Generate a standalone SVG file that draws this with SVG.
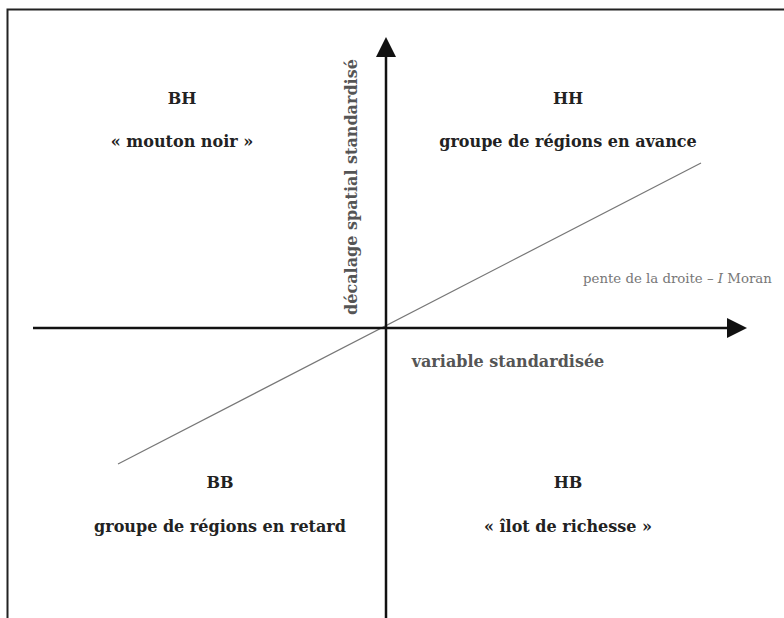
<svg xmlns="http://www.w3.org/2000/svg" width="784" height="618" viewBox="0 0 784 618">
<style>
.t{font-family:"DejaVu Serif","Liberation Serif",serif;text-anchor:middle;fill:#222;font-weight:bold;font-size:16px}
.g{font-family:"DejaVu Serif","Liberation Serif",serif;fill:#777;font-size:13.3px}
.ax{stroke:#111;stroke-width:2.5;fill:none}
</style>
<rect width="784" height="618" fill="#fff"/>
<path d="M7.5,618 V9.5 H784" fill="none" stroke="#222" stroke-width="2"/>
<g id="connectors">
<line x1="118" y1="464" x2="701" y2="163" stroke="#777" stroke-width="1.2"/>
<line class="ax" x1="386" y1="618" x2="386" y2="56"/>
<path d="M376,57 L386,37 L396,57 Z" fill="#111"/>
<line class="ax" x1="33" y1="328" x2="728" y2="328"/>
<path d="M727,318 L747,328 L727,338 Z" fill="#111"/>
</g>
<g id="BH"><text class="t" x="182" y="104">BH</text><text class="t" x="182" y="147">« mouton noir »</text></g>
<g id="HH"><text class="t" x="568" y="104">HH</text><text class="t" x="568" y="147">groupe de régions en avance</text></g>
<g id="BB"><text class="t" x="220" y="488">BB</text><text class="t" x="220" y="532">groupe de régions en retard</text></g>
<g id="HB"><text class="t" x="568" y="488">HB</text><text class="t" x="568" y="532">« îlot de richesse »</text></g>
<g id="xlabel"><text class="t" x="508" y="367" style="fill:#555">variable standardisée</text></g>
<g id="ylabel"><text class="t" transform="translate(357,187) rotate(-90)" style="fill:#555">décalage spatial standardisé</text></g>
<g id="slope"><text class="g" x="583" y="283">pente de la droite – <tspan font-style="italic">I</tspan> Moran</text></g>
</svg>
